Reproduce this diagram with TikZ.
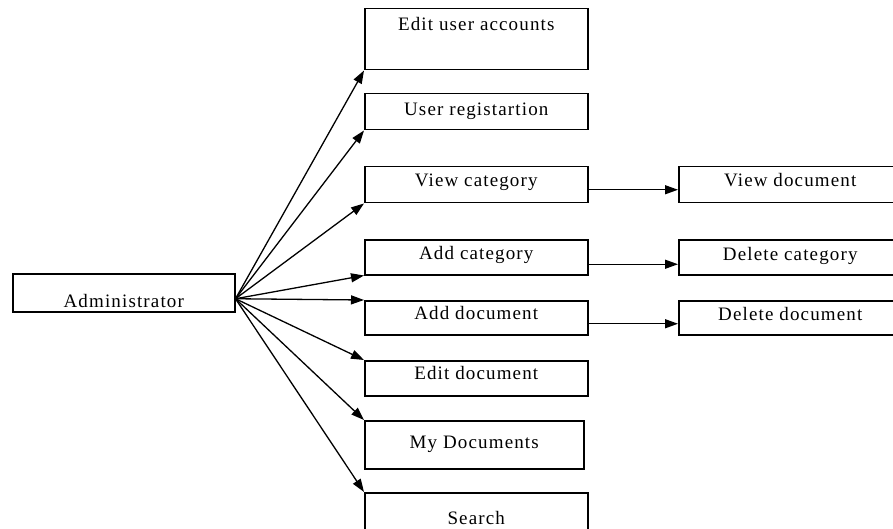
\documentclass[tikz,border=0pt]{standalone}
\usepackage{fontspec}
\setmainfont{Liberation Serif}[LetterSpace=6]
\usetikzlibrary{positioning,arrows.meta}

\begin{document}
\begin{tikzpicture}[x=1pt,y=-1pt,>={Triangle[length=13pt,width=9pt]},
  box/.style={draw,line width=1.5pt,inner sep=0pt,anchor=north west,minimum width=223pt,font=\fontsize{19}{22}\selectfont},
  link/.style={->,line width=1.3pt}]
\clip (0,0) rectangle (893,529);
\node[box,minimum width=222pt,text height=34pt,text depth=4pt] (admin) at (12,273) {Administrator};
\node[box,text height=22pt,text depth=39pt] (editacc) at (364,8) {Edit user accounts};
\node[box,text height=22pt,text depth=14pt] (userreg) at (364,93) {User registartion};
\node[box,text height=20pt,text depth=16pt] (viewcat) at (364,166) {View category};
\node[box,text height=20pt,text depth=15pt] (addcat) at (364,239) {Add category};
\node[box,text height=19pt,text depth=15pt] (adddoc) at (364,300) {Add document};
\node[box,text height=19pt,text depth=16pt] (editdoc) at (364,360) {Edit document};
\node[box,minimum width=219pt,text height=28pt,text depth=20pt] (mydocs) at (364,420) {My Documents};
\node[box,text height=32pt,text depth=16pt] (search) at (364,492) {Search};
\node[box,text height=20pt,text depth=16pt] (viewdoc) at (678,166) {View document};
\node[box,text height=21pt,text depth=14pt] (delcat) at (678,239) {Delete category};
\node[box,text height=20pt,text depth=14pt] (deldoc) at (678,300) {Delete document};
\coordinate (hub) at ([yshift=-6pt]admin.east);
\draw[link] (hub) -- (editacc.south west);
\draw[link] (hub) -- (userreg.south west);
\draw[link] (hub) -- (viewcat.south west);
\draw[link] (hub) -- (addcat.south west);
\draw[link] (hub) -- (adddoc.north west);
\draw[link] (hub) -- (editdoc.north west);
\draw[link] (hub) -- (mydocs.north west);
\draw[link] (hub) -- (search.north west);
\draw[link] ([yshift=-5pt]viewcat.east) -- ([yshift=-5pt]viewdoc.west);
\draw[link] ([yshift=-7pt]addcat.east) -- ([yshift=-7pt]delcat.west);
\draw[link] ([yshift=-6pt]adddoc.east) -- ([yshift=-6pt]deldoc.west);
\end{tikzpicture}
\end{document}
